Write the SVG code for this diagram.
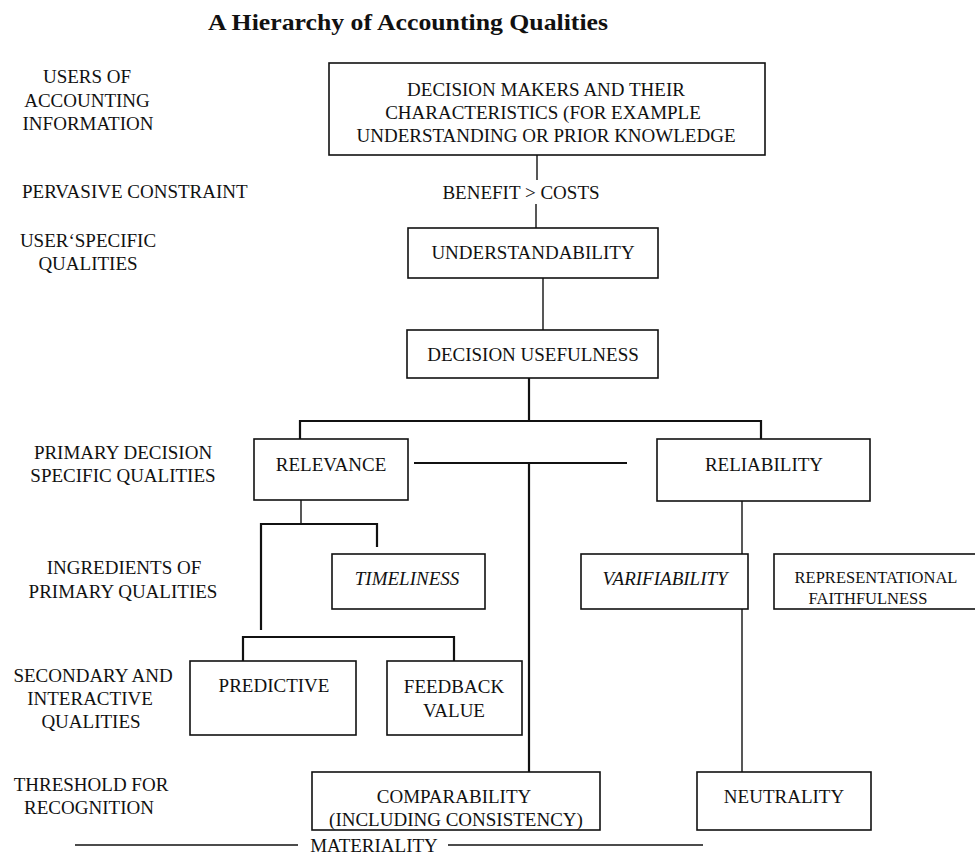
<svg xmlns="http://www.w3.org/2000/svg" width="975" height="855" viewBox="0 0 975 855">
  <style>
    text { font-family: "Liberation Serif", "Times New Roman", serif; fill: #111; }
    .title { font-size: 24px; font-weight: bold; }
    .lbl { font-size: 19px; text-anchor: middle; }
    .lft { font-size: 19px; }
    .nt { font-size: 19px; text-anchor: middle; }
    .it { font-style: italic; }
    .sm { font-size: 16.5px; }
    .box { fill: #fff; stroke: #111; stroke-width: 1.6; }
    .ln { fill: none; stroke: #111; stroke-width: 1.4; }
    .bar { fill: none; stroke: #111; stroke-width: 2.2; }
  </style>
  <rect width="975" height="855" fill="#fff"/>

  <text class="title" x="208" y="30" textLength="400" lengthAdjust="spacingAndGlyphs">A Hierarchy of Accounting Qualities</text>

  <!-- level captions down the left side -->
  <g id="captions">
    <text class="lbl" x="87" y="83">USERS OF</text>
    <text class="lbl" x="87" y="107">ACCOUNTING</text>
    <text class="lbl" x="88" y="130">INFORMATION</text>
    <text class="lft" x="22" y="198">PERVASIVE CONSTRAINT</text>
    <text class="lbl" x="88" y="247">USER‘SPECIFIC</text>
    <text class="lbl" x="88" y="270">QUALITIES</text>
    <text class="lbl" x="123" y="459">PRIMARY DECISION</text>
    <text class="lbl" x="123" y="482">SPECIFIC QUALITIES</text>
    <text class="lbl" x="124" y="574">INGREDIENTS OF</text>
    <text class="lbl" x="123" y="598">PRIMARY QUALITIES</text>
    <text class="lbl" x="93" y="682">SECONDARY AND</text>
    <text class="lbl" x="90" y="705">INTERACTIVE</text>
    <text class="lbl" x="91" y="728">QUALITIES</text>
    <text class="lbl" x="91" y="791">THRESHOLD FOR</text>
    <text class="lbl" x="89" y="814">RECOGNITION</text>
  </g>

  <!-- connectors -->
  <g id="connectors">
    <line class="ln" x1="537" y1="155" x2="537" y2="180"/>
    <line class="ln" x1="536" y1="204" x2="536" y2="228"/>
    <line class="ln" x1="543" y1="278" x2="543" y2="330"/>
    <line class="bar" x1="529" y1="378" x2="529" y2="421"/>
    <polyline class="bar" points="300,439 300,421 761,421 761,439"/>
    <line class="bar" x1="414" y1="463" x2="627" y2="463"/>
    <line class="bar" x1="529" y1="463" x2="529" y2="772"/>
    <line class="ln" x1="301" y1="500" x2="301" y2="524"/>
    <polyline class="bar" points="261,630 261,524 377,524 377,547"/>
    <polyline class="bar" points="243,661 243,637 454,637 454,661"/>
    <line class="ln" x1="742" y1="501" x2="742" y2="772"/>
    <line class="ln" x1="75" y1="845" x2="298" y2="845"/>
    <line class="ln" x1="448" y1="845" x2="703" y2="845"/>
  </g>

  <g id="decision-makers">
    <rect class="box" x="329" y="63" width="436" height="92"/>
    <text class="nt" x="546" y="96">DECISION MAKERS  AND THEIR</text>
    <text class="nt" x="543" y="119">CHARACTERISTICS (FOR EXAMPLE</text>
    <text class="nt" x="546" y="142">UNDERSTANDING OR PRIOR KNOWLEDGE</text>
  </g>

  <g id="benefit-costs">
    <text class="nt" x="521" y="199">BENEFIT &gt; COSTS</text>
  </g>

  <g id="understandability">
    <rect class="box" x="408" y="228" width="250" height="50"/>
    <text class="nt" x="533" y="259">UNDERSTANDABILITY</text>
  </g>

  <g id="decision-usefulness">
    <rect class="box" x="407" y="330" width="251" height="48"/>
    <text class="nt" x="533" y="361">DECISION USEFULNESS</text>
  </g>

  <g id="relevance">
    <rect class="box" x="254" y="439" width="154" height="61"/>
    <text class="nt" x="331" y="471">RELEVANCE</text>
  </g>

  <g id="reliability">
    <rect class="box" x="657" y="439" width="213" height="62"/>
    <text class="nt" x="764" y="471">RELIABILITY</text>
  </g>

  <g id="timeliness">
    <rect class="box" x="332" y="554" width="153" height="55"/>
    <text class="nt it" x="407" y="585">TIMELINESS</text>
  </g>

  <g id="varifiability">
    <rect class="box" x="581" y="554" width="167" height="55"/>
    <text class="nt it" x="665" y="585">VARIFIABILITY</text>
  </g>

  <g id="representational-faithfulness">
    <rect class="box" x="774" y="554" width="210" height="55"/>
    <text class="nt sm" x="876" y="583">REPRESENTATIONAL</text>
    <text class="nt sm" x="868" y="604">FAITHFULNESS</text>
  </g>

  <g id="predictive">
    <rect class="box" x="190" y="661" width="166" height="74"/>
    <text class="nt" x="274" y="692">PREDICTIVE</text>
  </g>

  <g id="feedback-value">
    <rect class="box" x="387" y="661" width="135" height="74"/>
    <text class="nt" x="454" y="693">FEEDBACK</text>
    <text class="nt" x="454" y="717">VALUE</text>
  </g>

  <g id="comparability">
    <rect class="box" x="312" y="772" width="288" height="58"/>
    <text class="nt" x="454" y="803">COMPARABILITY</text>
    <text class="nt" x="456" y="826">(INCLUDING CONSISTENCY)</text>
  </g>

  <g id="neutrality">
    <rect class="box" x="697" y="772" width="174" height="58"/>
    <text class="nt" x="784" y="803">NEUTRALITY</text>
  </g>

  <g id="materiality">
    <text class="nt" x="374" y="852">MATERIALITY</text>
  </g>
</svg>
